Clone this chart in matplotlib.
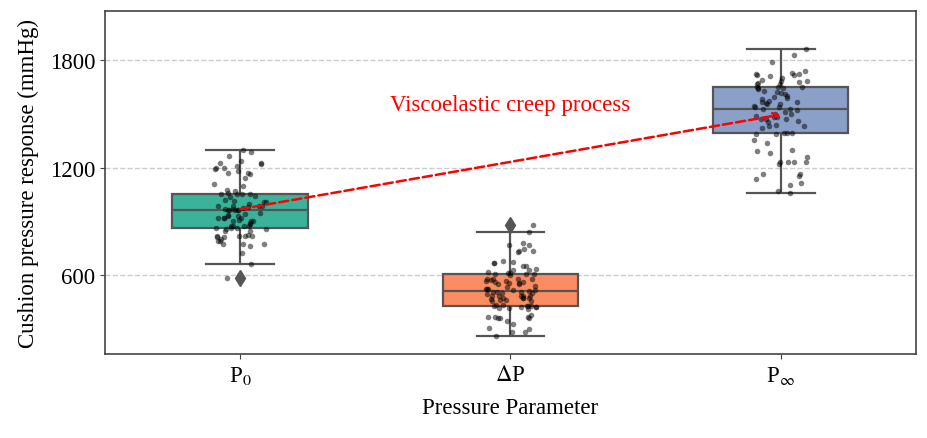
import numpy as np
import pandas as pd
import matplotlib
matplotlib.use("Agg")
import matplotlib.pyplot as plt
import seaborn as sns

# values (mmHg)
P0 = [1299, 1290, 1266, 1238, 1229, 1220, 1224, 1201, 1201, 1207, 1192, 1183,
      1173, 1173, 1164, 1145, 1108, 1096, 1076, 1071, 1061, 1052, 1052, 1052,
      1052, 1043, 1034, 1019, 1015, 1006, 1006, 997, 988, 988, 988, 985, 979,
      974, 968, 967, 966, 965, 964, 964, 964, 946, 941, 935, 928, 928, 922, 922,
      917, 917, 910, 903, 903, 903, 894, 885, 875, 875, 875, 875, 866, 866, 866,
      857, 857, 848, 848, 825, 819, 819, 819, 819, 811, 811, 801, 792, 792, 774,
      774, 774, 765, 723, 663, 582]
DP = [880, 840, 782, 767, 767, 745, 736, 736, 731, 680, 675, 668, 668, 652, 649,
      633, 627, 627, 619, 611, 605, 605, 600, 610, 608, 581, 581, 577, 577, 574,
      568, 568, 562, 562, 555, 555, 549, 549, 540, 537, 526, 526, 522, 518, 518,
      512, 507, 507, 505, 500, 500, 494, 485, 485, 485, 482, 482, 476, 471, 471,
      471, 466, 463, 463, 457, 457, 428, 426, 422, 434, 430, 432, 428, 425, 425,
      419, 419, 410, 377, 370, 370, 370, 364, 364, 364, 346, 327, 308, 299, 284,
      284, 261]
PINF = [1863, 1829, 1792, 1737, 1731, 1725, 1725, 1718, 1718, 1712, 1698, 1690,
        1685, 1685, 1680, 1671, 1666, 1666, 1653, 1653, 1653, 1647, 1642, 1638,
        1629, 1620, 1616, 1610, 1601, 1595, 1588, 1582, 1573, 1567, 1567, 1560,
        1554, 1554, 1545, 1541, 1536, 1530, 1526, 1523, 1511, 1498, 1498, 1489,
        1485, 1485, 1474, 1471, 1471, 1463, 1454, 1437, 1430, 1430, 1419, 1396,
        1395, 1392, 1390, 1387, 1353, 1340, 1299, 1293, 1281, 1262, 1234, 1234,
        1234, 1232, 1219, 1164, 1164, 1151, 1139, 1112, 1106, 1070, 1058]

LABELS = [r'P$_0$', r'$\Delta$P', r'P$_\infty$']
COLORS = ['#3bb39b', '#fc8d62', '#8aa0c8']

df = pd.DataFrame({
    'param': [LABELS[0]] * len(P0) + [LABELS[1]] * len(DP) + [LABELS[2]] * len(PINF),
    'value': P0 + DP + PINF,
})

plt.rcParams['font.family'] = ['Liberation Serif', 'DejaVu Serif']
plt.rcParams['mathtext.fontset'] = 'stix'

np.random.seed(3)
fig, ax = plt.subplots(figsize=(9.28, 4.39), dpi=100)
fig.subplots_adjust(left=0.113, right=0.987, top=0.973, bottom=0.191)

sns.boxplot(data=df, x='param', y='value', hue='param', palette=COLORS,
            width=0.5, linewidth=1.6, saturation=1, legend=False, ax=ax,
            boxprops=dict(edgecolor='#555555'),
            whiskerprops=dict(color='#555555'),
            capprops=dict(color='#555555'),
            medianprops=dict(color='#555555'),
            flierprops=dict(marker='d', markerfacecolor='#555555',
                            markeredgecolor='#555555', markersize=8))
sns.stripplot(data=df, x='param', y='value', color='black', alpha=0.5,
              size=4, jitter=0.1, ax=ax)

# creep arrow between group means
m0 = np.mean(P0)
m2 = np.mean(PINF)
ax.annotate('', xy=(2, m2), xytext=(0, m0),
            arrowprops=dict(arrowstyle='->', color='red', lw=1.8,
                            linestyle='--', shrinkA=0, shrinkB=0))
ax.text(1, 1555, 'Viscoelastic creep process', color='red', fontsize=16.5,
        ha='center', va='center')

ax.set_ylim(160, 2075)
ax.set_xlim(-0.5, 2.5)
ax.set_yticks([600, 1200, 1800])
ax.yaxis.grid(True, linestyle='--', color='#cccccc', linewidth=1)
ax.set_axisbelow(True)
ax.set_xlabel('Pressure Parameter', fontsize=16.5, labelpad=8)
ax.set_ylabel('Cushion pressure response (mmHg)', fontsize=16.5, labelpad=8)
ax.tick_params(labelsize=16.5, color='#444444')
for spine in ax.spines.values():
    spine.set_color('#444444')
    spine.set_linewidth(1.2)

fig.savefig('out.png', dpi=100)
